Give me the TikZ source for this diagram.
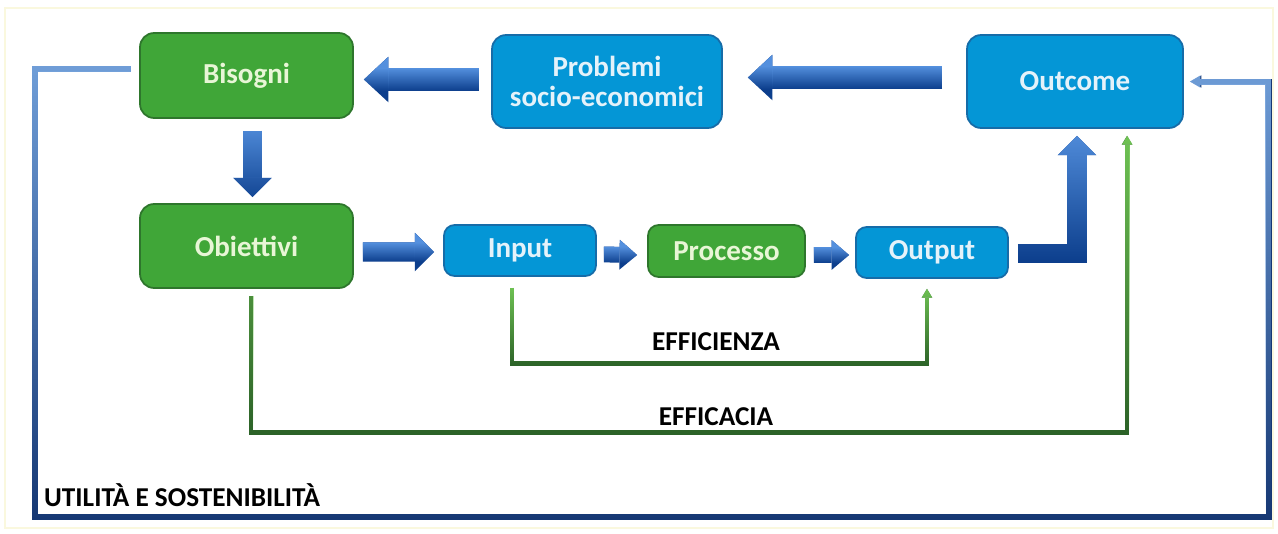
\documentclass[tikz,border=0pt]{standalone}
\usepackage{fontspec}
\setmainfont{Carlito}
\usetikzlibrary{arrows.meta,calc,fadings}

\definecolor{boxgreen}{RGB}{64,166,56}
\definecolor{boxgreenline}{RGB}{46,118,44}
\definecolor{greentext}{RGB}{232,246,214}
\definecolor{boxblue}{RGB}{4,150,214}
\definecolor{boxblueline}{RGB}{22,108,168}
\definecolor{bluetext}{RGB}{228,242,250}
\definecolor{arrowlight}{RGB}{84,144,222}
\definecolor{arrowdark}{RGB}{12,62,140}
\definecolor{greenlight}{RGB}{112,196,84}
\definecolor{greendark}{RGB}{44,98,40}
\definecolor{looplight}{RGB}{112,158,216}
\definecolor{loopdark}{RGB}{22,56,116}
\definecolor{framecol}{RGB}{250,248,222}

\tikzset{
  greenbox/.style={draw=boxgreenline, fill=boxgreen, line width=1pt,
    rounded corners=8pt, text=greentext, inner sep=0pt, align=center,
    font=\fontsize{16.5}{17}\selectfont\bfseries},
  bluebox/.style={greenbox, draw=boxblueline, fill=boxblue, text=bluetext},
  blockarrow/.style={draw=arrowdark, line width=13pt,
    -{Triangle[length=14pt,width=26pt,line width=0pt]},
    postaction={draw=arrowlight, path fading=south}},
  midarrow/.style={blockarrow, line width=11pt,
    -{Triangle[length=11pt,width=22pt,line width=0pt]}},
  smallarrow/.style={blockarrow, line width=9pt,
    -{Triangle[length=10pt,width=17pt,line width=0pt]}},
  greenline/.style={draw=greendark, line width=2.8pt,
    -{Triangle[length=5pt,width=6pt,line width=0pt]},
    postaction={draw=greenlight, path fading=south}},
  loopline/.style={draw=loopdark, line width=3.4pt,
    -{Triangle[length=6pt,width=7pt,line width=0pt]},
    postaction={draw=looplight, path fading=south}},
  label/.style={font=\fontsize{15.5}{17}\selectfont\bfseries, text=black}
}

\begin{document}
\begin{tikzpicture}[x=0.02cm, y=-0.02cm]
  \useasboundingbox (0,0) rectangle (1278,534);
  \draw[framecol, line width=0.6pt] (5,8) rectangle (1273,528);

  %% top row
  \node[greenbox, minimum width=4.26cm, minimum height=1.7cm] (bis) at (246.5,75.5) {Bisogni};
  \node[bluebox, minimum width=4.6cm, minimum height=1.86cm] (prob) at (607,81.5) {Problemi\\socio-economici};
  \node[bluebox, minimum width=4.32cm, minimum height=1.86cm] (outc) at (1075,81.5) {Outcome};

  %% middle row
  \node[greenbox, minimum width=4.26cm, minimum height=1.68cm] (obi) at (246.5,246) {Obiettivi};
  \node[bluebox, rounded corners=6pt, minimum width=3.04cm, minimum height=1.02cm] (inp) at (520,250.5) {Input};
  \node[greenbox, rounded corners=6pt, minimum width=3.14cm, minimum height=1.04cm] (proc) at (726.5,251) {Processo};
  \node[bluebox, rounded corners=6pt, minimum width=3.04cm, minimum height=1.02cm] (outp) at (932,252.5) {Output};

  %% block arrows
  \draw[blockarrow] ($(prob.west)+(-12,-2)$) -- ($(bis.east)+(10,4)$);
  \draw[blockarrow] ($(outc.west)+(-24,-4)$) -- ($(prob.east)+(25,-4)$);
  \draw[midarrow] ($(bis.south)+(6,12)$) -- ($(obi.north)+(6,-6)$);
  \draw[midarrow] ($(obi.east)+(9,6)$) -- ($(inp.west)+(-9,1.5)$);
  \draw[smallarrow] ($(inp.east)+(7,4)$) -- ($(proc.west)+(-10,4)$);
  \draw[smallarrow] ($(proc.east)+(8,4)$) -- ($(outp.west)+(-6,2.5)$);
  \draw[midarrow] ($(outp.east)+(9,1)$) -| ($(outc.south)+(2,7)$);

  %% efficienza, efficacia
  \draw[greenline] ($(inp.south)+(-8,11)$) |- ($(outp.south)+(-5,85)$) -- ($(outp.south)+(-5,10)$);
  \draw[greenline] ($(obi.south)+(4.5,7)$) |- ($(outc.south)+(52,304)$) -- ($(outc.south)+(52,7)$);
  \node[label] (effz) at (716,342) {EFFICIENZA};
  \node[label] (effc) at (716,417) {EFFICACIA};

  %% utilita e sostenibilita
  \coordinate (loopbl) at (35,517);
  \draw[loopline] ($(bis.west)+(-8,-7)$) -| (loopbl) -| ($(outc.east)+(85,0)$) -- ($(outc.east)+(7,0)$);
  \node[label, anchor=west] (util) at (38,495) {UTILITÀ E SOSTENIBILITÀ};
\end{tikzpicture}
\end{document}
